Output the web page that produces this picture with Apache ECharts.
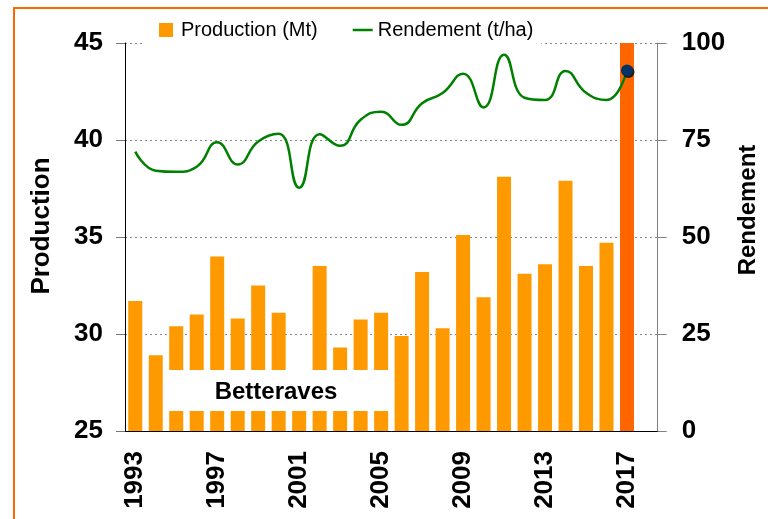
<!DOCTYPE html>
<html>
<head>
<meta charset="utf-8">
<script src="https://cdn.jsdelivr.net/npm/echarts@6/dist/echarts.min.js"></script>
<style>
  html, body { margin: 0; padding: 0; background: #fff; }
  #chart { width: 768px; height: 519px; }
</style>
</head>
<body>
<div id="chart"></div>
<script>
// années (la dernière catégorie est vide)
var years = ['1993','1994','1995','1996','1997','1998','1999','2000','2001','2002','2003','2004','2005',
  '2006','2007','2008','2009','2010','2011','2012','2013','2014','2015','2016','2017',''];

// production en Mt
var production = [31.7, 28.9, 30.4, 31.0, 34.0, 30.8, 32.5, 31.1, 27.0, 33.5, 29.3, 30.75, 31.1,
  29.9, 33.2, 30.3, 35.1, 31.9, 38.1, 33.1, 33.6, 37.9, 33.5, 34.7, 46.0];

// rendement en t/ha
var rendement = [72, 67.1, 66.8, 68.1, 74.4, 68.7, 74.6, 76.6, 62.7, 76.5, 73.5, 80.2, 82.3,
  78.9, 84.5, 87.1, 92.1, 83.4, 97.0, 85.9, 85.3, 92.8, 87.2, 85.3, 92.9];

var lastIdx = production.length - 1;

var chart = echarts.init(document.getElementById('chart'));

var font = "'Liberation Sans', Arial, sans-serif";

var barData = production.map(function (v, i) {
  if (i === lastIdx) return { value: v, itemStyle: { color: '#FF6600' } };
  return v;
});

// seul le dernier point porte un marqueur
var lineData = rendement.map(function (v, i) {
  if (i === lastIdx) {
    return {
      value: v,
      symbol: 'circle',
      symbolSize: 12,
      itemStyle: { color: '#003366', shadowColor: 'rgba(0,0,0,0.8)', shadowBlur: 0, shadowOffsetX: 1.5, shadowOffsetY: 1.5 }
    };
  }
  return v;
});

var option = {
  backgroundColor: '#fff',
  animation: false,
  textStyle: { fontFamily: font },
  grid: { left: 125, right: 109, top: 43, bottom: 88 },
  legend: {
    left: 145,
    top: 12,
    padding: [8, 8, 8, 14],
    backgroundColor: '#fff',
    itemGap: 35,
    itemWidth: 20,
    itemHeight: 14,
    textStyle: { color: '#000', fontSize: 20, fontFamily: font },
    data: [
      { name: 'Production (Mt)', icon: 'path://M0,0H14V14H0Z' },
      { name: 'Rendement (t/ha)', icon: 'path://M0,0H20V2.5H0Z', itemStyle: { color: '#008000' } }
    ]
  },
  xAxis: {
    type: 'category',
    data: years,
    boundaryGap: true,
    axisLine: { lineStyle: { color: '#000', width: 1 } },
    axisTick: { interval: 0, length: 9, lineStyle: { color: '#555' } },
    axisLabel: {
      interval: 3,
      rotate: 90,
      margin: 20,
      color: '#000',
      fontWeight: 'bold',
      fontSize: 26,
      fontFamily: font
    }
  },
  yAxis: [
    {
      type: 'value',
      min: 25,
      max: 45,
      interval: 5,
      name: 'Production',
      nameLocation: 'middle',
      nameRotate: 90,
      nameGap: 70,
      nameTextStyle: { color: '#000', fontWeight: 'bold', fontSize: 26, fontFamily: font, padding: [0, 0, 0, 22] },
      axisLine: { show: true, lineStyle: { color: '#000' } },
      axisTick: { show: true, inside: false, length: 9, lineStyle: { color: '#777' } },
      axisLabel: { color: '#000', fontWeight: 'bold', fontSize: 26, margin: 22, fontFamily: font },
      splitLine: { show: true, lineStyle: { color: '#888', type: [2, 3], width: 1 } }
    },
    {
      type: 'value',
      min: 0,
      max: 100,
      interval: 25,
      position: 'right',
      name: 'Rendement',
      nameLocation: 'middle',
      nameRotate: 90,
      nameGap: 75,
      nameTextStyle: { color: '#000', fontWeight: 'bold', fontSize: 24, fontFamily: font, padding: [0, 0, 0, 54] },
      axisLine: { show: true, lineStyle: { color: '#808080' } },
      axisTick: { show: true, inside: false, length: 9, lineStyle: { color: '#808080' } },
      axisLabel: { color: '#000', fontWeight: 'bold', fontSize: 26, margin: 24, fontFamily: font },
      splitLine: { show: false }
    }
  ],
  series: [
    {
      name: 'Production (Mt)',
      type: 'bar',
      yAxisIndex: 0,
      barWidth: 14,
      clip: true,
      itemStyle: { color: '#FF9900' },
      data: barData
    },
    {
      name: 'Rendement (t/ha)',
      type: 'line',
      yAxisIndex: 1,
      smooth: 0.5,
      symbol: 'none',
      showSymbol: true,
      itemStyle: { color: '#008000' },
      lineStyle: { color: '#008000', width: 2.5 },
      data: lineData,
      z: 5
    }
  ],
  graphic: [
    {
      type: 'rect',
      z: 50,
      silent: true,
      shape: { x: 14, y: 8, width: 800, height: 600 },
      style: { fill: 'none', stroke: '#FF6600', lineWidth: 2 }
    },
    {
      type: 'rect',
      z: 60,
      shape: { x: 163, y: 370, width: 226, height: 41 },
      style: { fill: '#fff' }
    },
    {
      type: 'text',
      z: 61,
      x: 276,
      y: 392,
      style: {
        text: 'Betteraves',
        fill: '#000',
        font: 'bold 24px ' + font,
        align: 'center',
        verticalAlign: 'middle'
      }
    }
  ]
};

chart.setOption(option);
</script>
</body>
</html>
